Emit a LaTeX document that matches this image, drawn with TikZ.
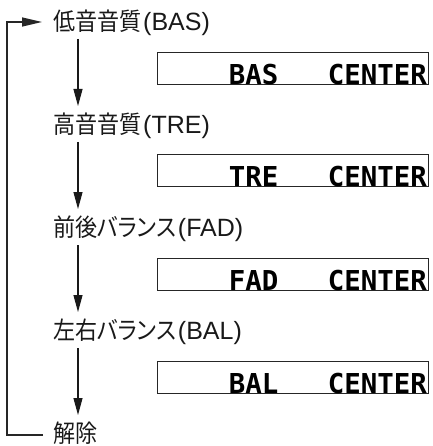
\documentclass[tikz,border=0pt]{standalone}
\usepackage{fontspec}
\setmainfont{Liberation Sans}
\newfontfamily\cjk{Noto Sans CJK JP}[FakeStretch=0.9]
\newfontfamily\cjkp{Noto Sans CJK JP}[FakeStretch=0.9,RawFeature=+palt]
\newfontfamily\lcdfont{DejaVu Sans Mono}
\usetikzlibrary{arrows.meta}
\newcommand\lat[1]{{\fontsize{25}{25}\selectfont\kern2pt #1}}
\tikzset{
  lbl/.style={anchor=west, inner sep=0pt, outer sep=0pt, text height=25.5pt, text depth=8.5pt,
    font=\fontsize{24.5}{25}\selectfont, text=black!90},
  lcdbox/.style={draw=black!85, line width=0.8pt, anchor=north west, minimum width=271pt,
    minimum height=32.5pt, inner sep=0pt, outer sep=0pt},
  lcdtext/.style={anchor=base east, inner sep=0pt, font=\lcdfont\bfseries\fontsize{27.4}{28}\selectfont, text=black},
  flow/.style={line width=1.1pt, black!90, -{Triangle[length=17pt,width=9pt]}},
  loopline/.style={line width=1.3pt, black!85, -{Triangle[length=20pt,width=9pt]}}
}
\begin{document}
\begin{tikzpicture}[x=1pt,y={(0pt,-1pt)}]
\useasboundingbox (0,0) rectangle (432,446);
% labels
\node[lbl] (l1) at (53,22)  {{\cjk 低音音質}\lat{(BAS)}};
\node[lbl] (l2) at (53,125) {{\cjk 高音音質}\lat{(TRE)}};
\node[lbl] (l3) at (53,228) {{\cjk 前後}{\cjkp バランス}\lat{(FAD)}};
\node[lbl] (l4) at (53,331) {{\cjk 左右}{\cjkp バランス}\lat{(BAL)}};
\node[lbl] (l5) at (53,434) {{\cjk 解除}};
% display boxes
\node[lcdbox] (b1) at (157,52)  {};
\node[lcdbox] (b2) at (157,154) {};
\node[lcdbox] (b3) at (157,258) {};
\node[lcdbox] (b4) at (157,361) {};
\node[lcdtext] (t1) at ([xshift=-1pt]b1.south east) {BAS\ \ \ CENTER};
\node[lcdtext] (t2) at ([xshift=-1pt]b2.south east) {TRE\ \ \ CENTER};
\node[lcdtext] (t3) at ([xshift=-1pt]b3.south east) {FAD\ \ \ CENTER};
\node[lcdtext] (t4) at ([xshift=-1pt]b4.south east) {BAL\ \ \ CENTER};
% flow arrows
\draw[flow] ([xshift=25pt]l1.south west) -- ([xshift=25pt,yshift=2pt]l2.north west);
\draw[flow] ([xshift=25pt]l2.south west) -- ([xshift=25pt,yshift=2pt]l3.north west);
\draw[flow] ([xshift=25pt]l3.south west) -- ([xshift=25pt,yshift=2pt]l4.north west);
\draw[flow] ([xshift=25pt]l4.south west) -- ([xshift=25pt,yshift=2pt]l5.north west);
% loop back
\coordinate (lp) at (7,435);
\draw[loopline] ([xshift=-10pt,yshift=-1pt]l5.west) -| (lp) |- ([xshift=-11pt]l1.west);
\end{tikzpicture}
\end{document}
